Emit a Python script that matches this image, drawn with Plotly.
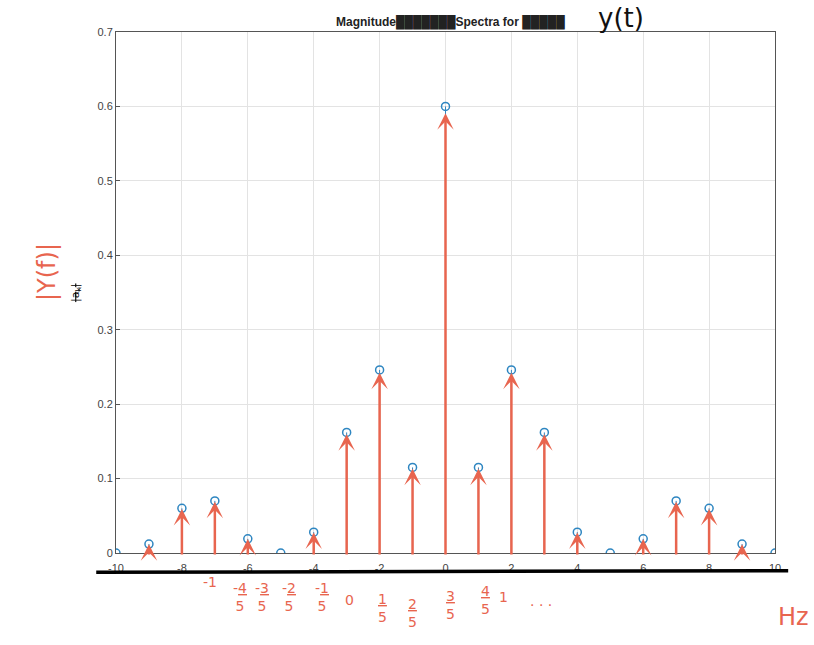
import plotly.graph_objects as go

# ---- data ----
k_index = list(range(-10, 11))
magnitude = [0.0, 0.012, 0.060, 0.070, 0.019, 0.0, 0.028, 0.162, 0.246, 0.115,
             0.600,
             0.115, 0.246, 0.162, 0.028, 0.0, 0.019, 0.070, 0.060, 0.012, 0.0]
x_ticks = [-10, -8, -6, -4, -2, 0, 2, 4, 6, 8, 10]
x_tick_text = ["-10", "-8", "-6", "-4", "-2", "0", "2", "4", "6", "8", "10"]
y_ticks = [0, 0.1, 0.2, 0.3, 0.4, 0.5, 0.6, 0.7]
y_tick_text = ["0", "0.1", "0.2", "0.3", "0.4", "0.5", "0.6", "0.7"]

# handwritten frequency labels (text, paper-x, paper-y)
hand_labels = [("-1", 0.143, -0.055), ("-<u>4</u><br>5", 0.188, -0.085),
               ("-<u>3</u><br>5", 0.222, -0.085), ("-<u>2</u><br>5", 0.262, -0.085),
               ("-<u>1</u><br>5", 0.312, -0.085), ("0", 0.355, -0.09),
               ("<u>1</u><br>5", 0.405, -0.105), ("<u>2</u><br>5", 0.450, -0.115),
               ("<u>3</u><br>5", 0.507, -0.100), ("<u>4</u><br>5", 0.560, -0.090),
               ("1", 0.588, -0.085), ("· · ·", 0.645, -0.100)]

RED = "#E8654F"
BLUE = "#2E86C1"

fig = go.Figure()

# blue stems
sx, sy = [], []
for xi, yi in zip(k_index, magnitude):
    sx += [xi, xi, None]
    sy += [0, yi, None]
fig.add_trace(go.Scatter(x=sx, y=sy, mode="lines",
                         line=dict(color=BLUE, width=1), hoverinfo="skip",
                         showlegend=False))
fig.add_trace(go.Scatter(x=k_index, y=magnitude, mode="markers",
                         marker=dict(symbol="circle-open", size=8,
                                     color=BLUE, line=dict(width=1.5)),
                         showlegend=False))

annotations = []
# red hand-drawn arrows
for xi, yi in zip(k_index, magnitude):
    if yi > 0:
        annotations.append(dict(x=xi, y=yi * 0.985, ax=xi, ay=-0.004,
                                xref="x", yref="y", axref="x", ayref="y",
                                showarrow=True, arrowhead=3, arrowsize=1.1,
                                arrowwidth=2.5, arrowcolor=RED, text=""))

for txt, px, py in hand_labels:
    annotations.append(dict(text=txt, x=px, y=py, xref="paper", yref="paper",
                            showarrow=False, font=dict(color=RED, size=14,
                                                       family="DejaVu Sans"),
                            xanchor="center", yanchor="middle"))

annotations.append(dict(text="Hz", x=1.028, y=-0.123, xref="paper", yref="paper",
                        showarrow=False, xanchor="center", yanchor="middle",
                        font=dict(color=RED, size=24, family="DejaVu Sans")))
annotations.append(dict(text="|Y(f)|", x=-0.13, y=0.54, xref="paper",
                        yref="paper", textangle=-90, showarrow=False,
                        font=dict(color=RED, size=24, family="DejaVu Sans")))
annotations.append(dict(text="<s>|a<sub>k</sub>|</s>", x=-0.075, y=0.50,
                        xref="paper", yref="paper", textangle=-90,
                        showarrow=False,
                        font=dict(color="black", size=11, family="DejaVu Sans")))
annotations.append(dict(text="<b>Magnitude</b>███████<b>Spectra for</b> █████",
                        x=0.507, y=1.0, xref="paper", yref="paper", yanchor="bottom",
                        showarrow=False,
                        font=dict(color="#222222", size=12, family="Liberation Sans")))
annotations.append(dict(text="y(t)", x=0.805, y=0.995, xref="paper", yref="paper",
                        yanchor="bottom", showarrow=False,
                        font=dict(color="#111111", size=26, family="DejaVu Sans")))

fig.update_layout(
    width=814, height=645,
    margin=dict(l=116, r=39, t=32, b=92),
    paper_bgcolor="white", plot_bgcolor="white",
    annotations=annotations,
    shapes=[dict(type="line", xref="paper", yref="paper", x0=-0.03, x1=1.02,
                 y0=-0.037, y1=-0.034, line=dict(color="black", width=3.5),
                 layer="above")],
    xaxis=dict(range=[-10, 10], tickvals=x_ticks, ticktext=x_tick_text,
               showgrid=True, ticklabelstandoff=5,
               gridcolor="#E3E3E3", zeroline=False, showline=True,
               linecolor="#555555", linewidth=1, mirror=True,
               ticks="inside", ticklen=4, tickcolor="#555555",
               tickfont=dict(size=11, color="#444444", family="Liberation Sans")),
    yaxis=dict(range=[0, 0.7], tickvals=y_ticks, ticktext=y_tick_text,
               showgrid=True, gridcolor="#E3E3E3", zeroline=False,
               showline=True, linecolor="#555555", linewidth=1, mirror=True,
               ticks="inside", ticklen=4, tickcolor="#555555",
               tickfont=dict(size=11, color="#444444", family="Liberation Sans")),
)

fig.write_html("out.html")
